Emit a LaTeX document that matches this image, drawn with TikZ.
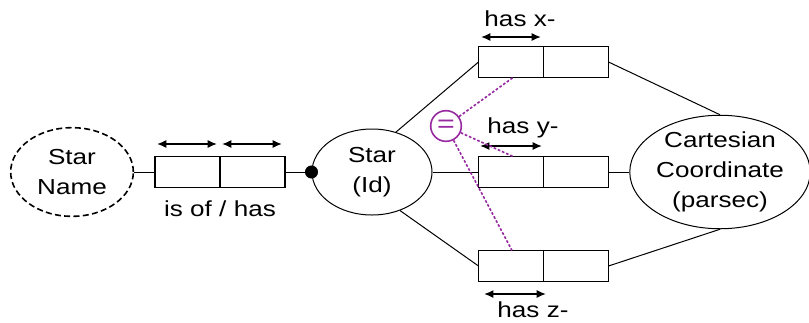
\documentclass[tikz,border=0pt]{standalone}
\usepackage{fontspec}
\setmainfont{Liberation Sans}[FakeStretch=1.2]
\usetikzlibrary{shapes.geometric,arrows.meta,calc}
\definecolor{eqpurple}{RGB}{150,40,160}
\begin{document}
\begin{tikzpicture}[x=0.75pt,y=-0.75pt,
  every node/.style={font=\fontsize{16.3}{22.5}\selectfont, text=black},
  ent/.style={draw, ellipse, inner sep=0pt, align=center, line width=0.75pt},
  cell/.style={draw, rectangle, minimum width=48.75pt, minimum height=23.25pt, inner sep=0pt, outer sep=0pt, line width=0.9pt},
  conn/.style={draw, line width=0.75pt},
  dim/.style={{Latex[length=7pt,width=6pt]}-{Latex[length=7pt,width=6pt]}, line width=1.2pt},
  eqline/.style={draw=eqpurple, line width=1.2pt, dash pattern=on 2pt off 1.4pt},
  lbl/.style={inner sep=0pt}]
\useasboundingbox (0,0) rectangle (809,322);
% entities
\node[ent, dashed, line width=1.2pt, dash pattern=on 4.5pt off 2.5pt, minimum width=92pt, minimum height=66.5pt] (sname) at (72,172) {Star\\Name};
\node[ent, minimum width=90pt, minimum height=64.5pt] (star) at (372,172) {Star\\(Id)};
\node[ent, minimum width=130.5pt, minimum height=75pt] (cart) at (720,172) {Cartesian\\Coordinate\\(parsec)};
% boxes
\node[cell] (a1) at (187.5,172) {};
\node[cell] (a2) at (252.5,172) {};
\node[cell] (x1) at (511,62) {};
\node[cell] (x2) at (576,62) {};
\node[cell] (y1) at (511,172) {};
\node[cell] (y2) at (576,172) {};
\node[cell] (z1) at (511,266) {};
\node[cell] (z2) at (576,266) {};
% dimension arrows
\coordinate (a1l) at (157,144); \coordinate (a1r) at (217,144);
\coordinate (a2l) at (222,144); \coordinate (a2r) at (282,144);
\coordinate (x1l) at (481,37); \coordinate (x1r) at (541,37);
\coordinate (y1l) at (480,146); \coordinate (y1r) at (542,146);
\coordinate (z1l) at (484,294); \coordinate (z1r) at (546,294);
\draw[dim] (a1l) -- (a1r);
\draw[dim] (a2l) -- (a2r);
\draw[dim] (x1l) -- (x1r);
\draw[dim] (y1l) -- (y1r);
\draw[dim] (z1l) -- (z1r);
% labels
\node[lbl] (lisof) at (220,209) {is of / has};
\node[lbl] (lx) at (520,19) {has x-};
\node[lbl] (ly) at (523,128) {has y-};
\node[lbl] (lz) at (533,310) {has z-};
% connectors
\draw[conn] (sname.east) -- (a1.west);
\draw[conn] (a2.east) -- (star.west);
\fill (star.west) circle[radius=4.9pt];
\draw[conn] (star.59) -- (x1.west);
\draw[conn] (star.east) -- (y1.west);
\draw[conn] (star.-54) -- (z1.west);
\draw[conn] (x2.east) -- (cart.north);
\draw[conn] (y2.east) -- (cart.west);
\draw[conn] (z2.east) -- (cart.south);
% equality constraint
\node[circle, draw=eqpurple, line width=1.2pt, minimum size=23pt, inner sep=0pt, text=eqpurple, font=\fontsize{19}{19}\selectfont] (eq) at (446,126) {=};
\draw[eqline] (eq) -- ($(x1.south)+(2,0)$);
\draw[eqline] (eq) -- ($(y1.north)+(2,0)$);
\draw[eqline] (eq) -- ($(z1.north)+(1,0)$);
\end{tikzpicture}
\end{document}
